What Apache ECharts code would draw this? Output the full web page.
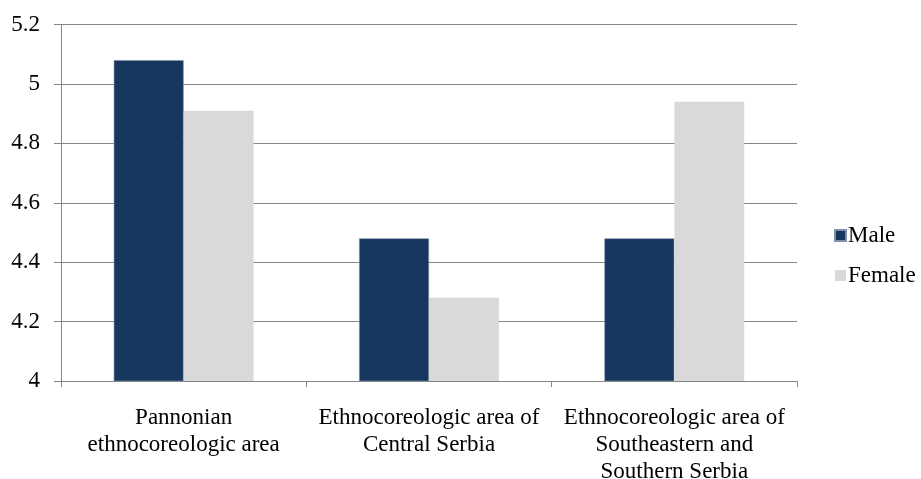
<!DOCTYPE html>
<html>
<head>
<meta charset="utf-8">
<script src="https://cdn.jsdelivr.net/npm/echarts@6/dist/echarts.min.js"></script>
<style>
  html, body { margin: 0; padding: 0; background: #fff; }
  #chart { width: 921px; height: 479px; }
</style>
</head>
<body>
<div id="chart"></div>
<script>
// Mean scores by ethnocoreologic area and gender
const categories = [
  'Pannonian\nethnocoreologic area',
  'Ethnocoreologic area of\nCentral Serbia',
  'Ethnocoreologic area of\nSoutheastern and\nSouthern Serbia'
];
const maleValues = [5.08, 4.48, 4.48];
const femaleValues = [4.91, 4.28, 4.94];
const yTicks = { min: 4, max: 5.2, step: 0.2 };

const font = 'Liberation Serif';
const chart = echarts.init(document.getElementById('chart'));

chart.setOption({
  animation: false,
  textStyle: { fontFamily: font },
  grid: {
    left: 61, right: 124, top: 24.5, bottom: 98,
    containLabel: false,
    outerBoundsMode: 'none'
  },
  legend: {
    orient: 'vertical',
    left: 829,
    top: 219,
    itemWidth: 11,
    itemHeight: 11,
    itemGap: 17,
    icon: 'rect',
    textStyle: { fontFamily: font, fontSize: 23, color: '#000', padding: [0, 0, 0, -3] },
    data: ['Male', 'Female']
  },
  xAxis: {
    type: 'category',
    data: categories,
    axisLine: { lineStyle: { color: '#868686', width: 1 } },
    axisTick: { show: true, length: 6, lineStyle: { color: '#868686' } },
    axisLabel: {
      color: '#000',
      fontFamily: font,
      fontSize: 23,
      lineHeight: 27,
      margin: 23,
      interval: 0
    }
  },
  yAxis: {
    type: 'value',
    min: yTicks.min,
    max: yTicks.max,
    interval: yTicks.step,
    axisLine: { show: true, lineStyle: { color: '#868686', width: 1 } },
    axisTick: { show: true, length: 7, lineStyle: { color: '#868686' } },
    splitLine: { lineStyle: { color: '#868686', width: 1 } },
    axisLabel: {
      color: '#000',
      fontFamily: font,
      fontSize: 23,
      margin: 21,
      formatter: v => String(Math.round(v * 10) / 10)
    }
  },
  series: [
    {
      name: 'Male',
      type: 'bar',
      data: maleValues,
      barGap: '0%',
      barCategoryGap: '43%',
      itemStyle: { color: '#17375E', borderColor: '#7f90a8', borderWidth: 0.6 }
    },
    {
      name: 'Female',
      type: 'bar',
      data: femaleValues,
      itemStyle: { color: '#D9D9D9' }
    }
  ]
});
</script>
</body>
</html>
